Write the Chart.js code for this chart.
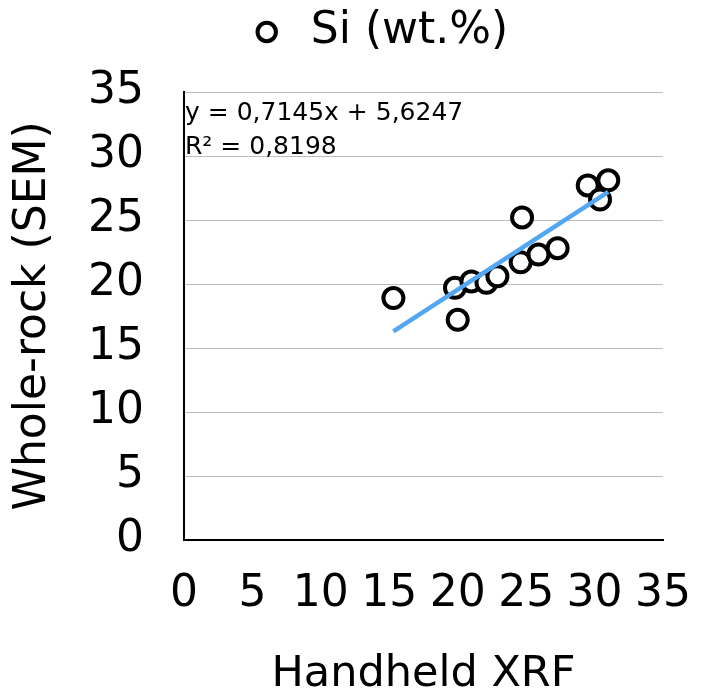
<!DOCTYPE html>
<html><head><meta charset="utf-8">
<script src="https://cdn.jsdelivr.net/npm/chart.js@4"></script>
<style>html,body{margin:0;padding:0;background:#fff}#wrap{width:707px;height:697px;position:relative}</style>
</head><body><div id="wrap"><canvas id="c"></canvas></div>
<script>
// Data
const handheldXRF  = [15.3, 20.0, 19.8, 21.0, 22.1, 22.9, 24.7, 24.6, 25.9, 27.3, 29.5, 30.4, 31.0];
const wholeRockSEM = [18.9, 17.2, 19.7, 20.2, 20.1, 20.6, 25.2, 21.7, 22.3, 22.8, 27.7, 26.6, 28.1];
const trendX = [15.3, 31.0];
const trendY = [16.3, 27.2];
const tickValues = [0, 5, 10, 15, 20, 25, 30, 35];
const seriesLabel = 'Si (wt.%)';
const trendLabel = 'Linear (Si (wt.%))';
const xTitle = 'Handheld XRF';
const yTitle = 'Whole-rock (SEM)';
const equationLines = ['y = 0,7145x + 5,6247', 'R² = 0,8198'];

const FONT = 'DejaVu Sans';

const scatterPoints = handheldXRF.map((x, i) => ({x, y: wholeRockSEM[i]}));
const trendPoints = trendX.map((x, i) => ({x, y: trendY[i]}));

const layoutTweaks = {
  id: 'layoutTweaks',
  beforeLayout(chart) {
    const lg = chart.legend;
    if (lg && !lg._patched) {
      const origFit = lg.fit;
      lg.fit = function () { origFit.call(this); this.height += 28; };
      const origDraw = lg.draw;
      lg.draw = function (...args) {
        const ctx = this.ctx;
        ctx.save();
        ctx.translate(45, 0);
        origDraw.apply(this, args);
        ctx.restore();
      };
      lg._patched = true;
    }
  }
};

const equationText = {
  id: 'equationText',
  afterDraw(chart) {
    const {ctx, chartArea} = chart;
    ctx.save();
    ctx.font = '25px "' + FONT + '"';
    ctx.fillStyle = '#000';
    ctx.textAlign = 'left';
    ctx.textBaseline = 'alphabetic';
    ctx.fillText(equationLines[0], chartArea.left + 1, chartArea.top + 28);
    ctx.fillText(equationLines[1], chartArea.left + 1, chartArea.top + 62);
    ctx.restore();
  }
};

new Chart(document.getElementById('c'), {
  type: 'scatter',
  data: {
    datasets: [
      {
        label: seriesLabel,
        data: scatterPoints,
        pointStyle: 'circle',
        pointRadius: 10,
        pointHoverRadius: 10,
        borderWidth: 4,
        borderColor: '#000',
        backgroundColor: '#fff',
        order: 1
      },
      {
        label: trendLabel,
        data: trendPoints,
        type: 'line',
        showLine: true,
        pointRadius: 0,
        borderColor: '#52a6f2',
        borderWidth: 4.5,
        fill: false,
        order: 0
      }
    ]
  },
  options: {
    responsive: true,
    maintainAspectRatio: false,
    animation: false,
    layout: {padding: {left: 0, right: 44, top: 0, bottom: 0}},
    plugins: {
      tooltip: {enabled: false},
      legend: {
        display: true,
        position: 'top',
        labels: {
          filter: (item) => item.text === seriesLabel,
          usePointStyle: true,
          boxWidth: 44,
          boxHeight: 13,
          padding: 10,
          color: '#000',
          font: {family: FONT, size: 44}
        }
      }
    },
    scales: {
      x: {
        type: 'linear',
        min: 0, max: 35,
        afterBuildTicks: (s) => { s.ticks = tickValues.map(v => ({value: v})); },
        afterFit: (s) => { s.height = 157; s.paddingRight = 0; s.paddingLeft = 0; },
        grid: {display: false, drawTicks: false},
        border: {display: true, color: '#000', width: 2},
        ticks: {color: '#000', padding: 28, maxRotation: 0, autoSkip: false, font: {family: FONT, size: 44}},
        title: {display: true, text: xTitle, color: '#000', font: {family: FONT, size: 43, lineHeight: 1.0}, padding: {top: 0, bottom: 1}}
      },
      y: {
        type: 'linear',
        min: 0, max: 35,
        afterBuildTicks: (s) => { s.ticks = tickValues.map(v => ({value: v})); },
        afterFit: (s) => { s.width = 184; },
        grid: {display: true, color: '#bdbdbd', lineWidth: 1, drawTicks: false},
        border: {display: true, color: '#000', width: 2},
        ticks: {color: '#000', padding: 40, autoSkip: false, font: {family: FONT, size: 44}},
        title: {display: true, text: yTitle, color: '#000', font: {family: FONT, size: 44, lineHeight: 1.0}, padding: {top: 12, bottom: 0}}
      }
    }
  },
  plugins: [layoutTweaks, equationText]
});
</script>
</body></html>
